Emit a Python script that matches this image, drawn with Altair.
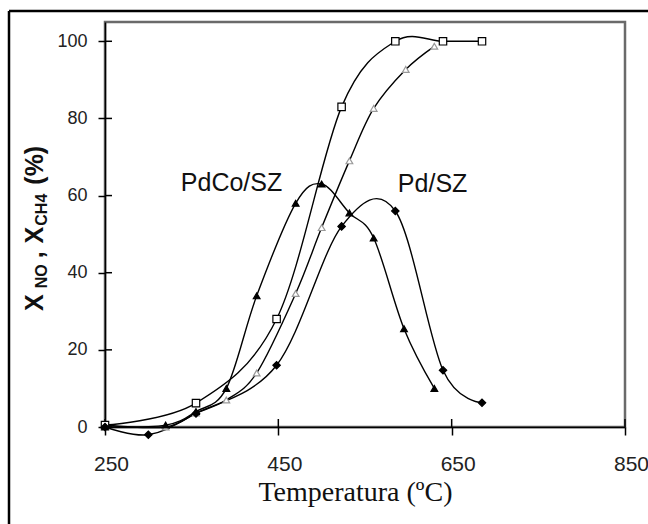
import altair as alt
import pandas as pd

# ---------------- data ----------------
# PdCo/SZ : NO conversion (filled triangles) and CH4 conversion (open triangles)
pdco_no_T = [250, 320, 355, 390, 425, 470, 500, 532, 560, 595, 630]
pdco_no_v = [0, 0.5, 4, 10, 34, 58, 63, 55.5, 49, 25.5, 10]
pdco_ch4_T = [250, 320, 355, 390, 425, 470, 500, 532, 560, 597, 630]
pdco_ch4_v = [0.5, 0, 3.6, 7, 14, 34.6, 51.7, 69, 82.6, 92.7, 98.7]
# Pd/SZ : NO conversion (filled diamonds) and CH4 conversion (open squares)
pd_no_T = [250, 300, 355, 448, 523, 585, 640, 685]
pd_no_v = [0, -2, 3.5, 16, 52, 56, 14.7, 6.3]
pd_ch4_T = [250, 355, 448, 523, 585, 640, 685]
pd_ch4_v = [0.5, 6.2, 28, 83, 100, 100, 100]

x_ticks = [250, 450, 650, 850]
y_ticks = [0, 20, 40, 60, 80, 100]

labels_text = ["PdCo/SZ", "Pd/SZ"]
labels_T = [396, 628]
labels_v = [63.3, 63]

W, H = 520, 405
PAD_L, PAD_T = 105, 22

xs = alt.Scale(domain=[250, 850], nice=False, zero=False)
ys = alt.Scale(domain=[0, 105], nice=False, zero=False)

X_AXIS = alt.Axis(
    values=x_ticks, title="Temperatura (ºC)", grid=False,
    domainColor="black", domainWidth=1.5, tickColor="black", tickWidth=1.5,
    tickSize=8, labelFontSize=21, labelFont="Liberation Sans",
    labelColor="#222", labelPadding=18, labelFlush=False, labelOffset=6,
    titleFont="Liberation Serif", titleFontSize=28, titleFontWeight="normal",
    titleColor="#111", titlePadding=4, titleX=250, titleAlign="center",
    titleAnchor="start",
)
Y_AXIS = alt.Axis(
    values=y_ticks, title=None, grid=False,
    domainColor="black", domainWidth=1.5, tickColor="black", tickWidth=1.5,
    tickSize=7, labelFontSize=18, labelFont="Liberation Sans",
    labelColor="#222", labelPadding=11,
)


def enc_x(field="T"):
    return alt.X(f"{field}:Q", scale=xs, axis=X_AXIS)


def enc_y(field="v"):
    return alt.Y(f"{field}:Q", scale=ys, axis=Y_AXIS)


def series_df(T, v):
    return pd.DataFrame({"T": T, "v": v})


def curve(T, v):
    return alt.Chart(series_df(T, v)).mark_line(
        interpolate="cardinal", tension=0, color="black", strokeWidth=1.4
    ).encode(x=enc_x(), y=enc_y())


def markers(T, v, shape, size, fill, stroke, sw=1.2):
    return alt.Chart(series_df(T, v)).mark_point(
        shape=shape, size=size, filled=True, fill=fill, stroke=stroke,
        strokeWidth=sw, opacity=1,
    ).encode(x=enc_x(), y=enc_y())


# inward half of the crossing tick marks
ytick_in = alt.Chart(pd.DataFrame({"v": y_ticks})).mark_rule(
    color="black", strokeWidth=1.5
).encode(y=enc_y(), x=alt.value(0), x2=alt.value(7))
xtick_in = alt.Chart(pd.DataFrame({"T": x_ticks})).mark_rule(
    color="black", strokeWidth=1.5
).encode(x=enc_x(), y=alt.value(H), y2=alt.value(H - 8))

# outer border of the figure (left and top edges)
one = pd.DataFrame({"a": [0]})
border_left = alt.Chart(one).mark_rule(color="black", strokeWidth=2.5).encode(
    x=alt.value(9 - PAD_L), y=alt.value(11 - PAD_T), y2=alt.value(524 - PAD_T))
border_top = alt.Chart(one).mark_rule(color="black", strokeWidth=2.5).encode(
    x=alt.value(9 - PAD_L), x2=alt.value(648 - PAD_L), y=alt.value(11 - PAD_T))

# series labels
lab = alt.Chart(pd.DataFrame({"T": labels_T, "v": labels_v, "t": labels_text})).mark_text(
    font="Liberation Sans", fontSize=25, color="#111", align="center", baseline="middle"
).encode(x=enc_x(), y=enc_y(), text="t:N")

# y-axis title with subscripts: X_NO , X_CH4 (%)
BIG, SMALL = 25, 16
# (text, font size, advance in em, gap before in px)
pieces = [("X", BIG, 0.667, 0), ("NO", SMALL, 1.5, 6), (",", BIG, 0.278, 6),
          ("X", BIG, 0.667, 8), ("CH4", SMALL, 2.0, 1), ("(%)", BIG, 1.555, 9)]
ytitle_layers = []
base_x = 43 - PAD_L
y_cur = 311 - PAD_T
for txt, fs, em, gap in pieces:
    dx = 4 if fs == SMALL else 0
    y_cur -= gap
    ytitle_layers.append(
        alt.Chart(one).mark_text(
            text=txt, font="Liberation Sans", fontSize=fs, fontWeight="bold",
            angle=270, align="left", baseline="alphabetic", color="#111",
        ).encode(x=alt.value(base_x + dx), y=alt.value(y_cur))
    )
    y_cur -= em * fs

layers = [ytick_in, xtick_in,
          curve(pd_ch4_T, pd_ch4_v), curve(pd_no_T, pd_no_v),
          curve(pdco_ch4_T, pdco_ch4_v), curve(pdco_no_T, pdco_no_v),
          markers(pdco_ch4_T, pdco_ch4_v, "triangle-up", 45, "white", "#999999"),
          markers(pd_ch4_T, pd_ch4_v, "square", 55, "white", "black"),
          markers(pdco_no_T, pdco_no_v, "triangle-up", 45, "black", "black"),
          markers(pd_no_T, pd_no_v, "diamond", 55, "black", "black"),
          lab, border_left, border_top] + ytitle_layers

chart = alt.layer(*layers).properties(
    width=W, height=H,
    autosize=alt.AutoSizeParams(type="none"),
    padding={"left": PAD_L, "top": PAD_T, "right": 648 - PAD_L - W, "bottom": 524 - PAD_T - H},
    background="white",
).configure_view(stroke="#6a6a6a", strokeWidth=2.5)

chart.save("out.html", embed_options={"renderer": "svg", "actions": False})
